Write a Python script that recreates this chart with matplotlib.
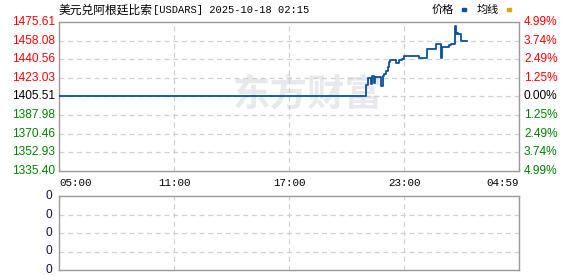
import matplotlib
matplotlib.use("Agg")
import matplotlib.pyplot as plt
import matplotlib.transforms as mtransforms

# ---------------- data ----------------
title_cn = "美元兑阿根廷比索"
title_rest = "[USDARS] 2025-10-18 02:15"
prev_close = 1405.51
y_levels = [1335.40, 1352.93, 1370.46, 1387.98, 1405.51, 1423.03, 1440.56, 1458.08, 1475.61]
pct_labels = ["4.99%", "3.74%", "2.49%", "1.25%", "0.00%", "1.25%", "2.49%", "3.74%", "4.99%"]
time_labels = ["05:00", "11:00", "17:00", "23:00", "04:59"]
vol_labels = ["0", "0", "0", "0", "0"]

times = ["05:00", "21:01", "21:08", "21:17", "21:20", "21:26", "21:29", "21:46", "21:52",
         "21:58", "22:04", "22:09", "22:12", "22:15", "22:35", "22:44", "22:53", "23:00",
         "23:45", "00:11", "00:39", "00:55", "00:57", "00:59", "01:21", "01:27", "01:39",
         "01:41", "01:44", "01:49", "01:58", "02:15"]
prices = [1405.51, 1416.5, 1423.0, 1417.5, 1425.0, 1418.0, 1424.0, 1415.6, 1425.2,
          1426.7, 1429.5, 1433.5, 1437.5, 1440.0, 1437.2, 1440.0, 1441.2, 1443.3,
          1441.6, 1450.4, 1454.8, 1441.6, 1448.5, 1452.2, 1453.8, 1455.0, 1471.8,
          1464.5, 1465.5, 1464.5, 1457.9, 1457.9]


def to_min(t):
    h, m = map(int, t.split(":"))
    v = (h - 5) * 60 + m
    return v if v >= 0 else v + 1440


xs = [to_min(t) for t in times]
tick_pos = [to_min(t) for t in time_labels]

# ---------------- figure ----------------
W, H = 578, 276
fig = plt.figure(figsize=(W / 100, H / 100), dpi=100)

NUM_FONT = "Liberation Sans"
MONO = "Liberation Mono"
CJK = ["Noto Sans CJK SC", "DejaVu Sans"]
grid_kw = dict(color="#d0d0d0", lw=0.9, ls=(0, (4, 3)))
line_color = "#0b4fa3"
frame_color = "#9a9a9a"

ax = fig.add_axes([59 / W, (H - 171) / H, 460 / W, (171 - 22) / H])
ax.set_xlim(0, 1439)
ax.set_ylim(y_levels[0], y_levels[-1])
for v in y_levels[1:-1]:
    ax.axhline(v, zorder=1, **grid_kw)
for p in tick_pos[1:-1]:
    ax.axvline(p, zorder=1, **grid_kw)

# watermark
ax.text(0.54, 0.51, "东方财富", transform=ax.transAxes, fontsize=27, fontweight="bold",
        color="#e8e8ed", family=CJK, ha="center", va="center", zorder=0)

ax.plot(xs, prices, drawstyle="steps-post", color=line_color, lw=1.3, zorder=3)

ax.set_xticks([])
ax.set_yticks([])
for s in ax.spines.values():
    s.set_color(frame_color)
    s.set_linewidth(1.0)

left_tr = mtransforms.blended_transform_factory(fig.transFigure, ax.transData)


def level_color(v):
    if v > prev_close + 0.01:
        return "#ff0000"
    if v < prev_close - 0.01:
        return "#008000"
    return "#000000"


for v in y_levels:
    ax.text(55 / W, v, f"{v:.2f}", transform=left_tr, ha="right", va="center",
            fontsize=8.6, color=level_color(v), family=NUM_FONT)
for v, lab in zip(y_levels, pct_labels[::-1]):
    ax.text(524 / W, v, lab, transform=left_tr, ha="left", va="center",
            fontsize=8.6, color=level_color(v), family=NUM_FONT)

bot_tr = mtransforms.blended_transform_factory(ax.transData, fig.transFigure)
for p, lab in zip(tick_pos, time_labels):
    ha = "center"
    if p == tick_pos[0]:
        ha = "left"
    elif p == tick_pos[-1]:
        ha = "right"
    ax.text(p, (H - 183) / H, lab, transform=bot_tr, ha=ha, va="center",
            fontsize=7.8, color="#000000", family=MONO)

# title & legend
fig.text(59 / W, (H - 10) / H, title_cn, ha="left", va="center", fontsize=8.5,
         family=CJK, color="#000000")
fig.text(153 / W, (H - 10) / H, title_rest, ha="left", va="center", fontsize=7.5,
         family=MONO, color="#000000")
fig.text(432 / W, (H - 10) / H, "价格", ha="left", va="center", fontsize=8, family=CJK)
fig.patches.append(plt.Rectangle((462 / W, (H - 11) / H), 4 / W, 3 / H, transform=fig.transFigure,
                                 color=line_color, figure=fig))
fig.text(477 / W, (H - 10) / H, "均线", ha="left", va="center", fontsize=8, family=CJK)
fig.patches.append(plt.Rectangle((507 / W, (H - 11) / H), 4 / W, 3 / H, transform=fig.transFigure,
                                 color="#e0a800", figure=fig))

# ---------------- volume panel ----------------
ax2 = fig.add_axes([59 / W, (H - 270) / H, 460 / W, (270 - 196) / H])
ax2.set_xlim(0, 1439)
ax2.set_ylim(0, 1)
vol_levels = [0, 0.25, 0.5, 0.75, 1.0]
for v in vol_levels[1:-1]:
    ax2.axhline(v, **grid_kw)
for p in tick_pos[1:-1]:
    ax2.axvline(p, **grid_kw)
ax2.set_xticks([])
ax2.set_yticks([])
for s in ax2.spines.values():
    s.set_color(frame_color)
    s.set_linewidth(1.0)
left_tr2 = mtransforms.blended_transform_factory(fig.transFigure, ax2.transData)
for v, lab in zip(vol_levels[::-1], vol_labels):
    ax2.text(52 / W, v, lab, transform=left_tr2, ha="right", va="center",
             fontsize=8.6, color="#10103a", family=NUM_FONT)

fig.savefig("out.png", dpi=100)
